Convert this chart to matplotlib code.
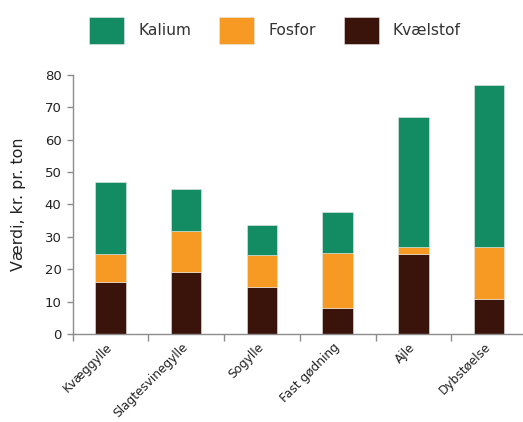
import numpy as np
import matplotlib
matplotlib.use("Agg")
import matplotlib.pyplot as plt

# values (kr. pr. ton)
categories = ["Kvæggylle", "Slagtesvinegylle", "Sogylle", "Fast gødning", "Ajle", "Dybstøelse"]
kvaelstof = [16.1, 19.2, 14.5, 8.1, 24.7, 10.9]
fosfor = [8.5, 12.5, 9.8, 16.9, 2.1, 15.8]
kalium = [22.2, 13.0, 9.4, 12.5, 40.1, 50.1]

col_k = "#138C64"
col_p = "#F79A24"
col_n = "#3A140B"
axis_grey = "#8C8C8C"

fig = plt.figure(figsize=(5.23, 4.22), dpi=100)
ax = fig.add_axes([72.5 / 523, 88 / 422, 454.5 / 523, 259.3 / 422])

x = np.arange(len(categories))
w = 0.4
edge = dict(edgecolor="#e8e8e8", linewidth=0.4)
b_n = ax.bar(x, kvaelstof, w, color=col_n, label="Kvælstof", **edge)
b_p = ax.bar(x, fosfor, w, bottom=kvaelstof, color=col_p, label="Fosfor", **edge)
bottom_k = np.array(kvaelstof) + np.array(fosfor)
b_k = ax.bar(x, kalium, w, bottom=bottom_k, color=col_k, label="Kalium", **edge)

ax.set_xlim(-0.5, len(categories) - 0.5)
ax.set_ylim(0, 80)
ax.set_yticks(range(0, 81, 10))

# tick marks between the categories, labels under the bars
ax.set_xticks(x)
ax.set_xticklabels(categories, rotation=45, ha="right", va="center", rotation_mode="anchor")
ax.set_xticks(np.arange(-0.5, len(categories), 1.0), minor=True)
ax.tick_params(axis="x", which="major", length=0, pad=8, labelsize=8.7, labelcolor="#222222")
ax.tick_params(axis="x", which="minor", length=5, width=1, color=axis_grey, direction="out")
ax.tick_params(axis="y", length=4, width=1, color=axis_grey, labelsize=9.5, labelcolor="#222222", pad=4)

for s in ["top", "right"]:
    ax.spines[s].set_visible(False)
for s in ["left", "bottom"]:
    ax.spines[s].set_color(axis_grey)
    ax.spines[s].set_linewidth(1)

ax.set_ylabel("Værdi, kr. pr. ton", fontsize=11.4, color="#222222", labelpad=13)

fig.legend([b_k, b_p, b_n], ["Kalium", "Fosfor", "Kvælstof"],
           loc="center left", bbox_to_anchor=(89 / 523, 1 - 30.5 / 422),
           ncol=3, frameon=False, fontsize=11.2, labelcolor="#333333",
           handlelength=2.26, handleheight=2.26, handletextpad=0.9,
           columnspacing=1.8, borderpad=0, borderaxespad=0)

fig.savefig("out.png", dpi=100)
